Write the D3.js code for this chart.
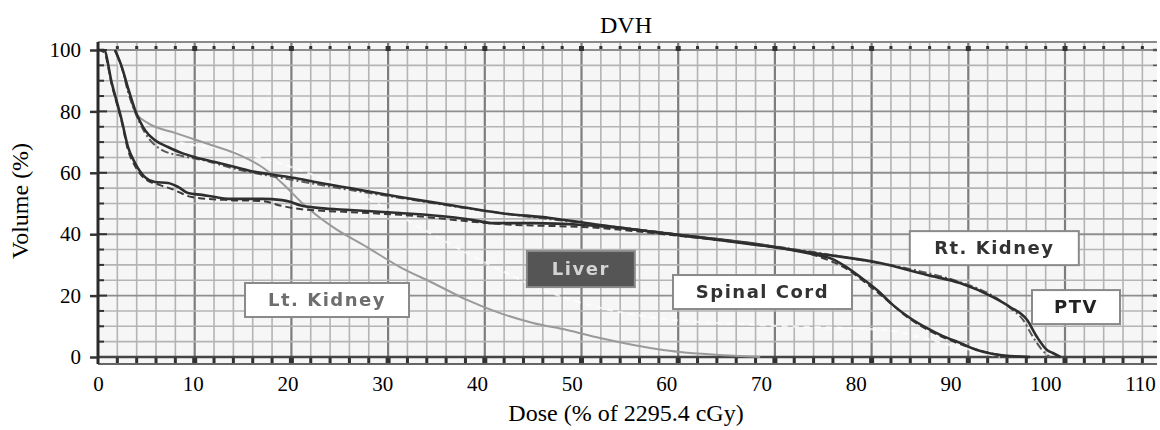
<!DOCTYPE html>
<html>
<head>
<meta charset="utf-8">
<script src="https://cdn.jsdelivr.net/npm/d3@7"></script>
<style>
  body { margin: 0; background: #fff; }
  .tick text { font-family: "Liberation Serif", "Times New Roman", serif; font-size: 21px; fill: #000; }
  .axisTitle { font-family: "Liberation Serif", "Times New Roman", serif; font-size: 24px; fill: #000; }
  .boxLabel { font-family: "DejaVu Sans", sans-serif; font-weight: bold; font-size: 18px; letter-spacing: 1.5px; }
</style>
</head>
<body>
<div id="chart"></div>
<script>
var svgWidth = 1160;
var svgHeight = 430;

// axis tick values
var xTicks = [0, 10, 20, 30, 40, 50, 60, 70, 80, 90, 100, 110];
var yTicks = [0, 20, 40, 60, 80, 100];

// DVH curves (dose %, volume %)
var spinalDose = [0, 0.63, 1.45, 2.5, 3.17, 3.91, 4.96, 6.02, 7.39, 8.45, 9.5, 10.98, 12.35, 13.72, 17.31, 19.42, 20.27, 21.32, 23.44, 26.6, 31.88, 37.16, 39.59, 41.7, 45.92, 51.2, 55.1, 61.44, 68.83, 75.9, 77.27, 78.86, 80.44, 82.24, 83.93, 85.72, 87.52, 89.2, 91.0, 92.79, 94.48, 96.28, 98.39];
var spinalVol = [100, 100, 89.3, 77.2, 68.4, 63.2, 58.6, 57.0, 56.7, 55.4, 53.4, 52.8, 52.1, 51.5, 51.5, 51.1, 50.6, 49.4, 48.5, 47.9, 46.9, 45.6, 44.6, 43.6, 43.6, 43.0, 42.0, 39.7, 37.1, 33.2, 32.2, 29.6, 26.1, 21.8, 16.9, 12.7, 9.4, 6.8, 4.6, 2.3, 1.0, 0.3, 0];

var rtKidneyDose = [1.79, 2.5, 3.17, 3.91, 4.96, 6.02, 7.39, 8.87, 10.24, 12.35, 14.46, 16.57, 18.69, 20.8, 22.91, 26.6, 31.88, 37.16, 42.44, 47.72, 52.99, 61.44, 72.0, 75.48, 82.55, 87.52, 91.0, 94.48, 96.28, 98.07, 99.13, 100.18, 100.8, 101.6];
var rtKidneyVol = [100, 94.6, 87.6, 80.5, 73.9, 70.6, 68.4, 66.4, 65.1, 63.5, 61.9, 60.3, 59.3, 58.3, 57.0, 55.0, 52.1, 49.5, 46.9, 45.3, 43.0, 39.7, 35.5, 33.9, 30.6, 26.7, 24.1, 19.5, 16.3, 12.1, 6.5, 2.3, 1.3, 0];

var ptvDose = [1.79, 2.53, 3.17, 3.91, 4.96, 6.76, 8.87, 10.98, 14.99, 19.42, 26.6, 31.88, 42.44, 52.99, 63.55, 72.0, 79.39, 87.52, 91.0, 94.48, 96.28, 97.65, 98.71, 99.66, 100.5];
var ptvVol = [100, 94.1, 86.3, 79.8, 73.0, 67.4, 65.5, 64.2, 60.9, 58.3, 54.4, 51.8, 46.9, 43.0, 39.1, 35.8, 32.2, 27.4, 24.4, 19.9, 16.0, 12.1, 6.5, 2.3, 0];

var ltKidneyDose = [1.79, 2.5, 3.17, 3.91, 5.28, 8.13, 11.3, 14.46, 17.31, 19.42, 21.54, 24.81, 28.4, 31.88, 35.37, 38.95, 42.44, 45.92, 49.51, 52.99, 59.65, 67.78, 69.9];
var ltKidneyVol = [100, 94.6, 87.6, 79.8, 76.2, 73.0, 69.7, 66.4, 61.9, 56.7, 50.2, 42.3, 35.8, 29.3, 24.1, 18.6, 14.3, 11.1, 8.8, 6.2, 2.3, 0.3, 0];

var liverDose = [1.79, 2.85, 4.43, 7.6, 13.93, 21.32, 29.77, 35.05, 40.33, 49.09, 58.27, 69.89, 82.87, 89.94, 95.22];
var liverVol = [100, 88.6, 77.2, 70.7, 67.4, 60.9, 49.5, 40.4, 31.6, 19.5, 13.0, 10.4, 8.8, 3.9, 0];

var cordDashDose = [0, 0.63, 1.48, 2.53, 3.17, 3.91, 4.96, 6.55, 7.81, 9.92, 13.93, 17.31, 19.42, 21.32, 26.6, 31.88, 42.44, 52.99, 61.44, 68.83, 75.9, 78.86, 82.24, 85.72, 91.0, 96.28, 98.39];
var cordDashVol = [100, 99.3, 88.3, 76.2, 67.4, 62.2, 58.0, 56.0, 54.7, 52.1, 51.1, 50.8, 49.2, 48.2, 47.2, 46.3, 43.3, 42.0, 39.4, 36.8, 32.9, 29.0, 21.2, 12.4, 4.2, 0.3, 0];

var labelNames = ["Lt. Kidney", "Liver", "Spinal Cord", "Rt. Kidney", "PTV"];

var svg = d3.select("#chart")
  .append("svg")
  .attr("width", svgWidth)
  .attr("height", svgHeight);

// scale used by the printed axis labels
var x = d3.scaleLinear().domain([0, 110]).range([98, 1140]);
var y = d3.scaleLinear().domain([0, 100]).range([357, 50]);
// the pasted plot has its own slightly wider grid
var xGrid = d3.scaleLinear().domain([0, 110]).range([98, 1161.7]);

var plotLeft = 98, plotRight = 1157, plotTop = 42, plotBottom = 364;

svg.append("defs").append("filter")
  .attr("id", "soft")
  .append("feGaussianBlur")
  .attr("stdDeviation", 0.55);

var plot = svg.append("g").attr("filter", "url(#soft)");

plot.append("rect")
  .attr("x", plotLeft).attr("y", plotTop)
  .attr("width", plotRight - plotLeft).attr("height", plotBottom - plotTop)
  .attr("fill", "#f6f6f6");

// vertical grid
var vLines = d3.range(2, 110, 2).filter(d => xGrid(d) < plotRight - 2);
plot.selectAll(".vgrid")
  .data(vLines)
  .enter()
  .append("line")
  .attr("x1", d => xGrid(d)).attr("x2", d => xGrid(d))
  .attr("y1", plotTop).attr("y2", plotBottom)
  .attr("stroke", d => d % 10 === 0 ? "#7d7d7d" : "#b4b4b4")
  .attr("stroke-width", d => d % 10 === 0 ? 2.2 : 1.6);

// horizontal grid
var hLines = d3.range(5, 101, 5);
plot.selectAll(".hgrid")
  .data(hLines)
  .enter()
  .append("line")
  .attr("x1", plotLeft).attr("x2", plotRight)
  .attr("y1", d => y(d)).attr("y2", d => y(d))
  .attr("stroke", d => d % 20 === 0 ? "#8e8e8e" : "#b4b4b4")
  .attr("stroke-width", d => d % 20 === 0 ? 1.9 : 1.6);

// border lines
plot.append("line")
  .attr("x1", plotLeft).attr("x2", plotRight)
  .attr("y1", plotTop).attr("y2", plotTop)
  .attr("stroke", "#8a8a8a").attr("stroke-width", 2);
plot.append("line")
  .attr("x1", plotLeft).attr("x2", plotRight)
  .attr("y1", y(0)).attr("y2", y(0))
  .attr("stroke", "#444").attr("stroke-width", 2.4);
plot.append("line")
  .attr("x1", plotLeft).attr("x2", plotRight)
  .attr("y1", plotBottom).attr("y2", plotBottom)
  .attr("stroke", "#666").attr("stroke-width", 2);

// tick dots along the top and bottom strips
var dotTicks = d3.range(2, 110, 2).filter(d => xGrid(d) < plotRight - 2);
plot.selectAll(".topdot")
  .data(dotTicks)
  .enter()
  .append("rect")
  .attr("x", d => xGrid(d) - (d % 10 === 0 ? 2.5 : 1.5))
  .attr("y", 46)
  .attr("width", d => d % 10 === 0 ? 5 : 3)
  .attr("height", d => d % 10 === 0 ? 5 : 3)
  .attr("fill", "#333");
plot.selectAll(".botdot")
  .data(dotTicks)
  .enter()
  .append("rect")
  .attr("x", d => xGrid(d) - (d % 10 === 0 ? 2.5 : 1.5))
  .attr("y", 358)
  .attr("width", d => d % 10 === 0 ? 5 : 3)
  .attr("height", 5)
  .attr("fill", "#333");

// right edge ticks
plot.selectAll(".rtick")
  .data(d3.range(5, 101, 5))
  .enter()
  .append("line")
  .attr("x1", plotRight - 4).attr("x2", plotRight)
  .attr("y1", d => y(d)).attr("y2", d => y(d))
  .attr("stroke", "#555").attr("stroke-width", d => d % 20 === 0 ? 2.5 : 1.5);

// minor ticks inside the left axis
plot.selectAll(".ltick")
  .data(d3.range(5, 101, 5))
  .enter()
  .append("line")
  .attr("x1", plotLeft).attr("x2", d => d % 20 === 0 ? plotLeft + 9 : plotLeft + 6)
  .attr("y1", d => y(d)).attr("y2", d => y(d))
  .attr("stroke", "#333").attr("stroke-width", 2);

// curves
function curveData(doses, vols) {
  return doses.map((d, i) => ({dose: d, vol: vols[i]}));
}
var line = d3.line()
  .x(d => x(d.dose))
  .y(d => y(d.vol))
  .curve(d3.curveMonotoneX);

var series = [
  {data: curveData(liverDose, liverVol), color: "#ffffff", width: 2.2, dash: "6,5", opacity: 0.7},
  {data: curveData(ltKidneyDose, ltKidneyVol), color: "#9a9a9a", width: 2, dash: null, opacity: 1},
  {data: curveData(cordDashDose, cordDashVol), color: "#3a3a3a", width: 2, dash: "7,4", opacity: 1},
  {data: curveData(spinalDose, spinalVol), color: "#2e2e2e", width: 2.6, dash: null, opacity: 1},
  {data: curveData(ptvDose, ptvVol), color: "#5a5a5a", width: 2, dash: "8,3,2,3", opacity: 1},
  {data: curveData(rtKidneyDose, rtKidneyVol), color: "#2e2e2e", width: 2.6, dash: null, opacity: 1}
];

plot.selectAll(".dvh")
  .data(series)
  .enter()
  .append("path")
  .attr("d", d => line(d.data))
  .attr("fill", "none")
  .attr("stroke", d => d.color)
  .attr("stroke-width", d => d.width)
  .attr("stroke-dasharray", d => d.dash)
  .attr("opacity", d => d.opacity);

// left axis line
plot.append("line")
  .attr("x1", plotLeft).attr("x2", plotLeft)
  .attr("y1", plotTop).attr("y2", plotBottom)
  .attr("stroke", "#2a2a2a").attr("stroke-width", 3);

// structure name boxes, anchored in data space
var boxes = [
  {dose: 15.52, vol: 24.1, w: 164, h: 34, fill: "#ffffff", text: "#6e6e6e"},
  {dose: 45.27, vol: 34.5, w: 108, h: 36, fill: "#555555", text: "#d4d4d4"},
  {dose: 60.7, vol: 26.7, w: 179, h: 34, fill: "#ffffff", text: "#333333"},
  {dose: 85.7, vol: 41.0, w: 169, h: 34, fill: "#ffffff", text: "#333333"},
  {dose: 98.6, vol: 21.8, w: 88, h: 34, fill: "#ffffff", text: "#222222"}
];
var boxGroups = plot.selectAll(".nameBox")
  .data(boxes)
  .enter()
  .append("g")
  .attr("transform", d => `translate(${x(d.dose)}, ${y(d.vol)})`);
boxGroups.append("rect")
  .attr("width", d => d.w).attr("height", d => d.h)
  .attr("fill", d => d.fill)
  .attr("stroke", "#8a8a8a").attr("stroke-width", 2);
boxGroups.append("text")
  .attr("class", "boxLabel")
  .attr("x", d => d.w / 2)
  .attr("y", d => d.h / 2 + 6)
  .attr("text-anchor", "middle")
  .attr("fill", d => d.text)
  .text((d, i) => labelNames[i]);

// axes
var leftAxis = d3.axisLeft(y).tickValues(yTicks).tickSize(8).tickPadding(9);
var yAxisG = svg.append("g")
  .attr("transform", `translate(${plotLeft}, 0)`)
  .call(leftAxis);
yAxisG.select(".domain").remove();
yAxisG.selectAll(".tick line").attr("stroke", "#333").attr("stroke-width", 2.5);

var bottomAxis = d3.axisBottom(x).tickValues(xTicks).tickSize(0).tickPadding(12);
var xAxisG = svg.append("g")
  .attr("transform", `translate(0, ${plotBottom})`)
  .call(bottomAxis);
xAxisG.select(".domain").remove();

svg.append("text")
  .attr("class", "axisTitle")
  .attr("x", 626).attr("y", 33)
  .attr("text-anchor", "middle")
  .text("DVH");

svg.append("text")
  .attr("class", "axisTitle")
  .attr("x", 626).attr("y", 421)
  .attr("text-anchor", "middle")
  .text("Dose (% of 2295.4 cGy)");

svg.append("text")
  .attr("class", "axisTitle")
  .attr("transform", "translate(28, 201) rotate(-90)")
  .attr("text-anchor", "middle")
  .text("Volume (%)");
</script>
</body>
</html>
